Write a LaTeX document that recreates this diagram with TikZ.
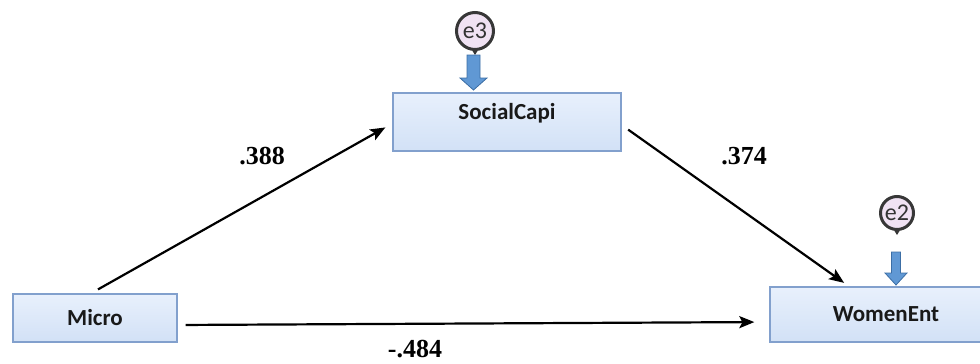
\documentclass[tikz,border=0pt]{standalone}
\usepackage{fontspec}
\newfontfamily\boxfont{Carlito}
\newfontfamily\numfont{Liberation Serif}
\usetikzlibrary{arrows.meta}
\definecolor{boxline}{RGB}{130,160,205}
\definecolor{boxtop}{RGB}{232,240,252}
\definecolor{boxbot}{RGB}{210,225,246}
\definecolor{errfill}{RGB}{240,226,243}
\definecolor{errline}{RGB}{55,55,55}
\definecolor{barrow}{RGB}{96,152,212}
\definecolor{barrowline}{RGB}{60,110,165}
\begin{document}
\begin{tikzpicture}[x=1pt,y=-1pt,
  varbox/.style={draw=boxline, line width=1.3pt, top color=boxtop, bottom color=boxbot,
    inner sep=0pt, font=\boxfont\bfseries\fontsize{23}{23}\selectfont, text=black!90},
  errnode/.style={circle, draw=errline, line width=3pt, fill=errfill, inner sep=0pt,
    font=\boxfont\fontsize{24}{24}\selectfont, text=black!80},
  sempath/.style={draw, line width=2.2pt, -{Stealth[length=15pt,width=12pt,inset=3pt]}},
  coef/.style={font=\numfont\bfseries\fontsize{26}{26}\selectfont},
  blockarrow/.style={fill=barrow, draw=barrowline, line width=0.8pt}
]
\useasboundingbox (0,0) rectangle (980,364);
% boxes
\node[varbox, minimum width=228pt, minimum height=58pt,
  label={[yshift=9pt, font=\boxfont\bfseries\fontsize{23}{23}\selectfont, text=black!90]center:SocialCapi}] (social) at (507,122) {};
\node[varbox, minimum width=164pt, minimum height=48pt] (micro) at (95,318) {Micro};
\node[varbox, minimum width=232pt, minimum height=55pt] (women) at (886,314.5) {WomenEnt};
% error terms
\node[errnode, minimum size=37pt] (e3) at (475,31) {e3};
\node[errnode, minimum size=33pt] (e2) at (897,213) {e2};
\fill[errline] ([xshift=-2.5pt]e3.south) -- ([xshift=2.5pt]e3.south) -- ([yshift=-4pt]e3.south) -- cycle;
\fill[errline] ([xshift=-2.5pt]e2.south) -- ([xshift=2.5pt]e2.south) -- ([yshift=-4pt]e2.south) -- cycle;
% block arrows
\coordinate (t3) at (473.5,90);
\coordinate (t2) at (896,285);
\path[blockarrow] (t3) ++(-6.5,-35) -- ++(13,0) -- ++(0,23) -- ++(7,0) -- (t3) -- ++(-13.5,-12) -- ++(7,0) -- cycle;
\path[blockarrow] (t2) ++(-4.5,-33) -- ++(9,0) -- ++(0,21) -- ++(6.5,0) -- (t2) -- ++(-11,-12) -- ++(6.5,0) -- cycle;
% paths
\path[sempath, shorten <=8pt, shorten >=8pt] ([xshift=-4pt]micro.north) -- ([yshift=-1.5pt]social.west);
\path[sempath, shorten <=8pt, shorten >=6pt] ([yshift=-3pt]social.east) -- ([xshift=-37pt]women.north);
\path[sempath, shorten <=8pt, shorten >=15pt] ([yshift=-7pt]micro.east) -- ([yshift=-7.5pt]women.west);
% coefficients
\node[coef] (c1) at (262,156) {.388};
\node[coef] (c2) at (744,156) {.374};
\node[coef] (c3) at (415,349) {-.484};
\end{tikzpicture}
\end{document}
